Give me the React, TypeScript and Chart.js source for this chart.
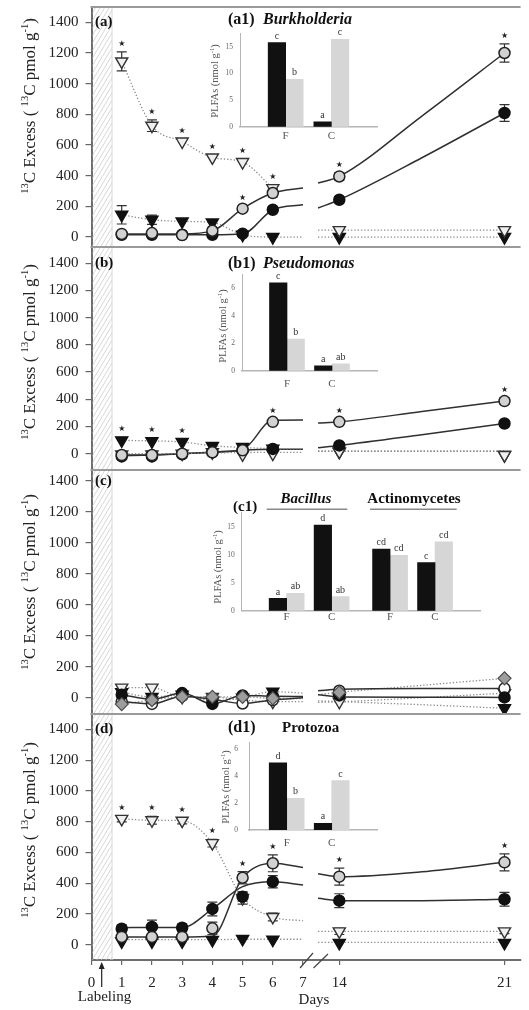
import React, { useEffect, useRef } from 'react';
import { Chart, registerables } from 'chart.js';

Chart.register(...registerables);

const SERIF = "'Liberation Serif', 'Times New Roman', Times, serif";
const STAR_FONT = "'DejaVu Sans', sans-serif";

// ---------------- shared axis data ----------------
const days = [1, 2, 3, 4, 5, 6, 14, 21];
const fitDaysEarly = [1, 2, 3, 4, 5, 6, 7];
const fitDaysLate = [13.1, 14, 17.5, 21];
const xTickDays = [0, 1, 2, 3, 4, 5, 6, 7, 14, 21];
const xTickLabels = ['0', '1', '2', '3', '4', '5', '6', '7', '14', '21'];
const yTicks = [0, 200, 400, 600, 800, 1000, 1200, 1400];
const none8 = [0, 0, 0, 0, 0, 0, 0, 0];

// ---------------- panel (a) Burkholderia ----------------
const aOpenTri = [1145, 726, 623, 519, 489, 319, 45, 45];
const aOpenTriErr = [62, 38, 0, 0, 0, 0, 0, 0];
const aOpenTriStar = [1, 1, 1, 1, 1, 1, 0, 0];
const aOpenTriFitEarly = [1145, 726, 623, 519, 489, 319, null];
const aOpenTriFitLate = [45, 45, 45, 45];

const aBlackTri = [145, 113, 102, 95, 15, 0, 0, 0];
const aBlackTriErr = [60, 30, 0, 0, 0, 0, 0, 0];
const aBlackTriFitEarly = [145, 113, 102, 95, 15, 0, 0];
const aBlackTriFitLate = [0, 0, 0, 0];

const aGrayCirc = [20, 26, 13, 41, 185, 287, 395, 1200];
const aGrayCircErr = [0, 0, 0, 0, 0, 25, 25, 60];
const aGrayCircStar = [0, 0, 0, 0, 1, 0, 1, 1];
const aGrayCircFitEarly = [20, 20, 20, 40, 185, 287, 320];
const aGrayCircFitLate = [352, 395, 789, 1200];

const aBlackCirc = [15, 15, 15, 15, 22, 178, 243, 809];
const aBlackCircErr = [0, 0, 0, 0, 0, 15, 20, 55];
const aBlackCircFitEarly = [15, 15, 15, 15, 20, 178, 210];
const aBlackCircFitLate = [189, 243, 517, 809];

// ---------------- panel (b) Pseudomonas ----------------
const bBlackTri = [98, 91, 86, 56, 49, 37, 15, -10];
const bBlackTriStar = [1, 1, 1, 0, 0, 0, 0, 0];
const bBlackTriFitEarly = [98, 94, 86, 58, 46, 37, 35];
const bBlackTriFitLate = [18, 18, 18, 18];

const bOpenTri = [-5, -5, 0, 10, -5, 0, 15, -10];
const bOpenTriFitEarly = [0, 0, 2, 6, 8, 10, 10];
const bOpenTriFitLate = [18, 18, 18, 18];

const bGrayCirc = [-10, -10, 0, 10, 25, 234, 234, 387];
const bGrayCircErr = [0, 0, 0, 0, 0, 15, 15, 25];
const bGrayCircStar = [0, 0, 0, 0, 0, 1, 1, 1];
const bGrayCircFitEarly = [-10, -8, 0, 10, 30, 245, 248];
const bGrayCircFitLate = [226, 234, 310, 387];

const bBlackCirc = [-20, -20, -5, 10, 30, 35, 61, 222];
const bBlackCircErr = [0, 0, 0, 0, 0, 10, 15, 20];
const bBlackCircFitEarly = [-15, -10, 0, 10, 25, 32, 32];
const bBlackCircFitLate = [44, 61, 140, 222];

// ---------------- panel (c) Bacillus / Actinomycetes ----------------
const cBlackCirc = [20, -10, 30, -40, 15, 10, 15, 2];
const cBlackCircFitEarly = [20, -10, 30, -40, 15, 10, 8];
const cBlackCircFitLate = [20, 5, 3, 2];

const cWhiteCirc = [-25, -40, 10, -10, -37, -15, 45, 60];
const cWhiteCircFitEarly = [-25, -40, 10, -10, -37, -15, 0];
const cWhiteCircFitLate = [45, 55, 60, 60];

const cBlackTri = [35, 5, 20, -20, 0, 39, 0, -68];
const cBlackTriFitEarly = [35, 5, 20, -20, 0, 39, 30];
const cBlackTriFitLate = [-20, -25, -45, -68];

const cOpenTri = [65, 65, 5, 5, -15, -25, -26, 30];
const cOpenTriFitEarly = [65, 65, 5, 5, -15, -25, -25];
const cOpenTriFitLate = [-30, -26, 0, 30];

const cGrayDia = [-41, -15, 6, 6, 6, -4, 35, 125];
const cGrayDiaFitEarly = [-41, -15, 6, 6, 6, -4, -5];
const cGrayDiaFitLate = [20, 35, 80, 125];

// ---------------- panel (d) Protozoa ----------------
const dOpenTri = [818, 809, 806, 660, 303, 180, 86, 86];
const dOpenTriErr = [20, 25, 20, 25, 40, 25, 20, 15];
const dOpenTriStar = [1, 1, 1, 1, 0, 0, 0, 0];
const dOpenTriFitEarly = [818, 809, 806, 660, 303, 180, 155];
const dOpenTriFitLate = [86, 86, 86, 86];

const dBlackTri = [21, 21, 21, 30, 37, 32, 11, 11];
const dBlackTriFitEarly = [32, 32, 32, 32, 35, 35, 35];
const dBlackTriFitLate = [15, 15, 15, 15];

const dGrayCirc = [50, 50, 50, 106, 435, 529, 442, 535];
const dGrayCircErr = [0, 0, 0, 40, 40, 55, 55, 55];
const dGrayCircStar = [0, 0, 0, 0, 1, 1, 1, 1];
const dGrayCircFitEarly = [50, 50, 50, 55, 435, 529, 502];
const dGrayCircFitLate = [461, 442, 474, 535];

const dBlackCirc = [104, 115, 110, 232, 312, 409, 286, 295];
const dBlackCircErr = [25, 45, 25, 45, 30, 40, 45, 45];
const dBlackCircFitEarly = [110, 112, 112, 232, 377, 409, 388];
const dBlackCircFitLate = [301, 286, 286, 295];

// ---------------- inset bar data (PLFAs, nmol g-1) ----------------
const a1Cats = ['F', 'C'];
const a1Black = [15.8, 0.9];
const a1Gray = [8.9, 16.4];
const a1BlackLetters = ['c', 'a'];
const a1GrayLetters = ['b', 'c'];
const a1YTicks = [0, 5, 10, 15];

const b1Cats = ['F', 'C'];
const b1Black = [6.4, 0.36];
const b1Gray = [2.3, 0.5];
const b1BlackLetters = ['c', 'a'];
const b1GrayLetters = ['b', 'ab'];
const b1YTicks = [0, 2, 4, 6];

const c1Cats = ['F', 'C', 'F', 'C'];
const c1Black = [2.2, 15.3, 11.0, 8.6];
const c1Gray = [3.1, 2.5, 9.9, 12.3];
const c1BlackLetters = ['a', 'd', 'cd', 'c'];
const c1GrayLetters = ['ab', 'ab', 'cd', 'cd'];
const c1YTicks = [0, 5, 10, 15];

const d1Cats = ['F', 'C'];
const d1Black = [5.0, 0.5];
const d1Gray = [2.36, 3.67];
const d1BlackLetters = ['d', 'a'];
const d1GrayLetters = ['b', 'c'];
const d1YTicks = [0, 2, 4, 6];

// ---------------- layout constants ----------------
const W = 529;
const PAD = 16;
const Y_AXIS_W = 91.5;
const X_AXIS_H = 46;
const BREAK_AT = 7;
const RESUME_AT = 14;
const RESUME_POS = 8.2;
const LATE_UNIT = 0.781;
const X_MAX = 14.2;
const HATCH_END = 0.68;
const BAR_W = 17.5;
const INSET_XH = 16;

const pos = (d: number) => (d <= BREAK_AT ? d : RESUME_POS + (d - RESUME_AT) * LATE_UNIT);

const MARKERS: any = {
  grayDia: { style: 'rectRot', r: 6.5, rot: 0, bg: '#9d9d9d', border: '#4a4a4a', bw: 1.2, order: 0 },
  grayCirc: { style: 'circle', r: 5.5, rot: 0, bg: '#d2d2d2', border: '#222', bw: 1.5, order: 1 },
  blackCirc: { style: 'circle', r: 5.5, rot: 0, bg: '#111', border: '#111', bw: 1.5, order: 2 },
  whiteCirc: { style: 'circle', r: 5.5, rot: 0, bg: '#fbfbfb', border: '#222', bw: 1.5, order: 3 },
  openTri: { style: 'triangle', r: 7, rot: 180, bg: '#efefef', border: '#333', bw: 1.4, order: 4 },
  blackTri: { style: 'triangle', r: 7, rot: 180, bg: '#111', border: '#111', bw: 1.4, order: 5 },
};

const S = (kind: string, values: number[], fitEarly: any[], fitLate: any[], dotted: boolean, err = none8, star = none8) =>
  ({ kind, values, fitEarly, fitLate, dotted, err, star });

const PANELS: any[] = [
  {
    key: 'a', areaTop: 7, areaBottom: 247, yMin: -65, yMax: 1500, label: '(a)', titleY: 106,
    series: [
      S('openTri', aOpenTri, aOpenTriFitEarly, aOpenTriFitLate, true, aOpenTriErr, aOpenTriStar),
      S('blackTri', aBlackTri, aBlackTriFitEarly, aBlackTriFitLate, true, aBlackTriErr),
      S('grayCirc', aGrayCirc, aGrayCircFitEarly, aGrayCircFitLate, false, aGrayCircErr, aGrayCircStar),
      S('blackCirc', aBlackCirc, aBlackCircFitEarly, aBlackCircFitLate, false, aBlackCircErr),
    ],
  },
  {
    key: 'b', areaTop: 247, areaBottom: 470, yMin: -120, yMax: 1520, label: '(b)', titleY: 352,
    series: [
      S('blackTri', bBlackTri, bBlackTriFitEarly, bBlackTriFitLate, true, none8, bBlackTriStar),
      S('openTri', bOpenTri, bOpenTriFitEarly, bOpenTriFitLate, true),
      S('grayCirc', bGrayCirc, bGrayCircFitEarly, bGrayCircFitLate, false, bGrayCircErr, bGrayCircStar),
      S('blackCirc', bBlackCirc, bBlackCircFitEarly, bBlackCircFitLate, false, bBlackCircErr),
    ],
  },
  {
    key: 'c', areaTop: 470, areaBottom: 714, yMin: -105, yMax: 1470, label: '(c)', titleY: 582,
    series: [
      S('blackCirc', cBlackCirc, cBlackCircFitEarly, cBlackCircFitLate, false),
      S('whiteCirc', cWhiteCirc, cWhiteCircFitEarly, cWhiteCircFitLate, false),
      S('blackTri', cBlackTri, cBlackTriFitEarly, cBlackTriFitLate, true),
      S('openTri', cOpenTri, cOpenTriFitEarly, cOpenTriFitLate, true),
      S('grayDia', cGrayDia, cGrayDiaFitEarly, cGrayDiaFitLate, true),
    ],
  },
  {
    key: 'd', areaTop: 714, areaBottom: 960, yMin: -100, yMax: 1500, label: '(d)', titleY: 830, showX: true,
    series: [
      S('openTri', dOpenTri, dOpenTriFitEarly, dOpenTriFitLate, true, dOpenTriErr, dOpenTriStar),
      S('blackTri', dBlackTri, dBlackTriFitEarly, dBlackTriFitLate, true),
      S('grayCirc', dGrayCirc, dGrayCircFitEarly, dGrayCircFitLate, false, dGrayCircErr, dGrayCircStar),
      S('blackCirc', dBlackCirc, dBlackCircFitEarly, dBlackCircFitLate, false, dBlackCircErr),
    ],
  },
];
PANELS.forEach((p) => {
  p.canvasTop = p.areaTop - PAD;
  p.canvasH = p.areaBottom - p.areaTop + PAD + (p.showX ? X_AXIS_H + 4 : PAD);
});

const INSETS: any[] = [
  {
    key: 'a1', left: 180, top: 8, width: 205, height: 142,
    areaLeft: 240, areaRight: 377, areaTop: 33.4, areaBottom: 126.7,
    xMin: 0, xMax: 3, groupPos: [1, 2], yMax: 17.5, yTicks: a1YTicks,
    cats: a1Cats, black: a1Black, gray: a1Gray, blackLetters: a1BlackLetters, grayLetters: a1GrayLetters,
    xLabelPad: 3, yLabelPad: 7, yTitleX: 218, yTitleY: 81,
    titles: [
      { text: '(a1)', x: 228, y: 20, font: `bold 16px ${SERIF}`, align: 'left' },
      { text: 'Burkholderia', x: 263, y: 20, font: `italic bold 16px ${SERIF}`, align: 'left' },
    ],
    underlines: [],
  },
  {
    key: 'b1', left: 180, top: 250, width: 205, height: 142,
    areaLeft: 242, areaRight: 377, areaTop: 274.5, areaBottom: 370.7,
    xMin: 0, xMax: 3, groupPos: [1, 2], yMax: 7, yTicks: b1YTicks,
    cats: b1Cats, black: b1Black, gray: b1Gray, blackLetters: b1BlackLetters, grayLetters: b1GrayLetters,
    xLabelPad: 7, yLabelPad: 7, yTitleX: 226, yTitleY: 326,
    titles: [
      { text: '(b1)', x: 228, y: 264, font: `bold 16px ${SERIF}`, align: 'left' },
      { text: 'Pseudomonas', x: 263, y: 264, font: `italic bold 16px ${SERIF}`, align: 'left' },
    ],
    underlines: [],
  },
  {
    key: 'c1', left: 180, top: 488, width: 310, height: 145,
    areaLeft: 241.7, areaRight: 480, areaTop: 512.7, areaBottom: 610.7,
    xMin: 0, xMax: 5.3, groupPos: [1, 2, 3.3, 4.3], yMax: 17.5, yTicks: c1YTicks,
    cats: c1Cats, black: c1Black, gray: c1Gray, blackLetters: c1BlackLetters, grayLetters: c1GrayLetters,
    xLabelPad: 0, yLabelPad: 7, yTitleX: 221, yTitleY: 567,
    titles: [
      { text: '(c1)', x: 233, y: 507, font: `bold 15px ${SERIF}`, align: 'left' },
      { text: 'Bacillus', x: 306, y: 499, font: `italic bold 15px ${SERIF}`, align: 'center' },
      { text: 'Actinomycetes', x: 414, y: 499, font: `bold 15px ${SERIF}`, align: 'center' },
    ],
    underlines: [[266.7, 347.3, 509.3], [370, 456.7, 509.3]],
  },
  {
    key: 'd1', left: 180, top: 714, width: 205, height: 140,
    areaLeft: 249, areaRight: 377.3, areaTop: 742.6, areaBottom: 830,
    xMin: 0.162, xMax: 3.013, groupPos: [1, 2], yMax: 6.5, yTicks: d1YTicks,
    cats: d1Cats, black: d1Black, gray: d1Gray, blackLetters: d1BlackLetters, grayLetters: d1GrayLetters,
    xLabelPad: 6.5, yLabelPad: 11, yTitleX: 229, yTitleY: 787,
    titles: [
      { text: '(d1)', x: 228, y: 728, font: `bold 16px ${SERIF}`, align: 'left' },
      { text: 'Protozoa', x: 282, y: 728, font: `bold 15px ${SERIF}`, align: 'left' },
    ],
    underlines: [],
  },
];

const Y_TITLE_PARTS = [
  { t: '13', sup: true }, { t: 'C Excess ( ' }, { t: '13', sup: true }, { t: 'C pmol g' }, { t: '-1', sup: true }, { t: ')' },
];
const PLFA_PARTS = [{ t: 'PLFAs (nmol g' }, { t: '-1', sup: true }, { t: ')' }];

function drawRich(ctx: any, parts: any[], x: number, y: number, size: number, color: string, rotate: boolean) {
  ctx.save();
  ctx.translate(x, y);
  if (rotate) ctx.rotate(-Math.PI / 2);
  const fontFor = (p: any) => `${p.sup ? size * 0.62 : size}px ${SERIF}`;
  let total = 0;
  const widths = parts.map((p) => {
    ctx.font = fontFor(p);
    const w = ctx.measureText(p.t).width;
    total += w;
    return w;
  });
  let cx = -total / 2;
  ctx.fillStyle = color;
  ctx.textAlign = 'left';
  ctx.textBaseline = 'alphabetic';
  parts.forEach((p, i) => {
    ctx.font = fontFor(p);
    ctx.fillText(p.t, cx, p.sup ? -size * 0.4 : 0);
    cx += widths[i];
  });
  ctx.restore();
}

function panelPlugin(p: any) {
  const off = p.canvasTop;
  return {
    id: 'panel-' + p.key,
    beforeDatasetsDraw(chart: any) {
      const { ctx, chartArea: ca, scales } = chart;
      const xs = scales.x;
      const ys = scales.y;
      const hx = xs.getPixelForValue(HATCH_END);
      const h = ca.bottom - ca.top;
      ctx.save();
      ctx.beginPath();
      ctx.rect(ca.left + 1, ca.top, hx - ca.left - 1, h);
      ctx.clip();
      ctx.strokeStyle = '#cdcdcd';
      ctx.lineWidth = 0.8;
      for (let o = -h * 0.6; o < hx - ca.left + 6; o += 4.5) {
        ctx.beginPath();
        ctx.moveTo(ca.left + o, ca.bottom);
        ctx.lineTo(ca.left + o + h * 0.6, ca.top);
        ctx.stroke();
      }
      ctx.restore();
      ctx.save();
      ctx.strokeStyle = '#d8d8d8';
      ctx.lineWidth = 1;
      ctx.beginPath();
      ctx.moveTo(hx, ca.top);
      ctx.lineTo(hx, ca.bottom);
      ctx.stroke();
      // error bars
      ctx.strokeStyle = '#333';
      ctx.lineWidth = 1.2;
      chart.data.datasets.forEach((ds: any, i: number) => {
        if (!ds.errs) return;
        const meta = chart.getDatasetMeta(i);
        meta.data.forEach((pt: any, j: number) => {
          const e = ds.errs[j];
          if (!e) return;
          const v = ds.data[j].y;
          const y1 = ys.getPixelForValue(v + e);
          const y2 = ys.getPixelForValue(v - e);
          ctx.beginPath();
          ctx.moveTo(pt.x, y1);
          ctx.lineTo(pt.x, y2);
          ctx.moveTo(pt.x - 5, y1);
          ctx.lineTo(pt.x + 5, y1);
          ctx.moveTo(pt.x - 5, y2);
          ctx.lineTo(pt.x + 5, y2);
          ctx.stroke();
        });
      });
      ctx.restore();
    },
    afterDatasetsDraw(chart: any) {
      const { ctx, scales } = chart;
      const ys = scales.y;
      ctx.save();
      ctx.fillStyle = '#222';
      ctx.font = `8px ${STAR_FONT}`;
      ctx.textAlign = 'center';
      ctx.textBaseline = 'middle';
      chart.data.datasets.forEach((ds: any, i: number) => {
        if (!ds.stars) return;
        const meta = chart.getDatasetMeta(i);
        meta.data.forEach((pt: any, j: number) => {
          if (!ds.stars[j]) return;
          const v = ds.data[j].y;
          const e = ds.errs ? ds.errs[j] : 0;
          const sy = Math.min(pt.y - 11, ys.getPixelForValue(v + e) - 8);
          ctx.fillText('\u2605', pt.x, sy);
        });
      });
      ctx.restore();
    },
    afterDraw(chart: any) {
      const { ctx, chartArea: ca, scales } = chart;
      const ys = scales.y;
      ctx.save();
      // top border of the panel
      ctx.strokeStyle = '#9a9a9a';
      ctx.lineWidth = 2;
      ctx.beginPath();
      ctx.moveTo(ca.left - 1, ca.top);
      ctx.lineTo(ca.right, ca.top);
      ctx.stroke();
      // panel label
      ctx.fillStyle = '#111';
      ctx.font = `bold 15px ${SERIF}`;
      ctx.textAlign = 'left';
      ctx.textBaseline = 'middle';
      ctx.fillText(p.label, 95, ys.getPixelForValue(1400));
      ctx.restore();
      drawRich(ctx, Y_TITLE_PARTS, 35, p.titleY - off, 17, '#222', true);
      if (p.showX) {
        ctx.save();
        ctx.strokeStyle = '#444';
        ctx.lineWidth = 1.2;
        ctx.beginPath();
        ctx.moveTo(300, 968 - off);
        ctx.lineTo(313, 953 - off);
        ctx.moveTo(313.5, 968 - off);
        ctx.lineTo(328, 954 - off);
        ctx.stroke();
        ctx.fillStyle = '#222';
        ctx.font = `15px ${SERIF}`;
        ctx.textAlign = 'center';
        ctx.textBaseline = 'middle';
        ctx.fillText('Days', 314, 1000 - off);
        ctx.fillText('Labeling', 104.5, 997 - off);
        ctx.strokeStyle = '#222';
        ctx.lineWidth = 1.2;
        ctx.beginPath();
        ctx.moveTo(101.7, 987 - off);
        ctx.lineTo(101.7, 966 - off);
        ctx.stroke();
        ctx.beginPath();
        ctx.moveTo(101.7, 962 - off);
        ctx.lineTo(98.7, 969 - off);
        ctx.lineTo(104.7, 969 - off);
        ctx.closePath();
        ctx.fill();
        ctx.restore();
      }
    },
  };
}

function makePanel(canvas: HTMLCanvasElement, p: any) {
  const datasets: any[] = [];
  p.series.forEach((s: any, si: number) => {
    const st = MARKERS[s.kind];
    const lineCommon = {
      type: 'line', showLine: true, pointRadius: 0, pointHitRadius: 0,
      borderColor: s.dotted ? '#8a8a8a' : '#303030', borderWidth: s.dotted ? 1.3 : 1.5,
      borderDash: s.dotted ? [1.3, 2] : [], cubicInterpolationMode: 'monotone', fill: false,
      spanGaps: false, order: 50 + si,
    };
    datasets.push({ ...lineCommon, data: fitDaysEarly.map((d, i) => ({ x: pos(d), y: s.fitEarly[i] })) });
    datasets.push({ ...lineCommon, data: fitDaysLate.map((d, i) => ({ x: pos(d), y: s.fitLate[i] })) });
    datasets.push({
      type: 'line', showLine: false,
      data: days.map((d, i) => ({ x: pos(d), y: s.values[i] })),
      pointStyle: st.style, pointRadius: st.r, pointRotation: st.rot,
      pointBackgroundColor: st.bg, pointBorderColor: st.border, pointBorderWidth: st.bw,
      backgroundColor: st.bg, borderColor: st.border, order: st.order,
      errs: s.err, stars: s.star,
    });
  });
  return new Chart(canvas, {
    type: 'line',
    data: { datasets },
    options: {
      responsive: false, animation: false, events: [],
      layout: { padding: { top: PAD, bottom: p.showX ? 4 : PAD, left: 0, right: 0 } },
      plugins: { legend: { display: false }, tooltip: { enabled: false } },
      scales: {
        x: {
          type: 'linear', min: 0, max: X_MAX, display: !!p.showX,
          afterBuildTicks: (sc: any) => { sc.ticks = xTickDays.map((d) => ({ value: pos(d) })); },
          afterFit: (sc: any) => { sc.height = p.showX ? X_AXIS_H : 0; },
          ticks: {
            autoSkip: false, maxRotation: 0, minRotation: 0, padding: 9, color: '#222',
            font: { family: SERIF, size: 15 }, callback: (_v: any, i: number) => xTickLabels[i],
          },
          grid: { display: true, drawOnChartArea: false, drawTicks: true, tickLength: 5, color: '#666', lineWidth: 1.2 },
          border: { display: true, color: '#6e6e6e', width: 2 },
        },
        y: {
          type: 'linear', min: p.yMin, max: p.yMax,
          afterBuildTicks: (sc: any) => { sc.ticks = yTicks.map((v) => ({ value: v })); },
          afterFit: (sc: any) => { sc.width = Y_AXIS_W; },
          ticks: { padding: 7, color: '#222', font: { family: SERIF, size: 15 }, callback: (v: any) => String(v) },
          grid: { display: true, drawOnChartArea: false, drawTicks: true, tickLength: 6, color: '#666', lineWidth: 1.2 },
          border: { display: true, color: '#6e6e6e', width: 2 },
        },
      },
    } as any,
    plugins: [panelPlugin(p)],
  } as any);
}

function insetPlugin(ins: any) {
  return {
    id: 'inset-' + ins.key,
    afterDatasetsDraw(chart: any) {
      const ctx = chart.ctx;
      ctx.save();
      ctx.fillStyle = '#333';
      ctx.font = `10px ${SERIF}`;
      ctx.textAlign = 'center';
      ctx.textBaseline = 'bottom';
      chart.data.datasets.forEach((ds: any, i: number) => {
        const meta = chart.getDatasetMeta(i);
        meta.data.forEach((bar: any, j: number) => {
          ctx.fillText(ds.letters[j], bar.x, bar.y - 1.5);
        });
      });
      ctx.restore();
    },
    afterDraw(chart: any) {
      const ctx = chart.ctx;
      ctx.save();
      ctx.fillStyle = '#111';
      ctx.textBaseline = 'middle';
      ins.titles.forEach((t: any) => {
        ctx.font = t.font;
        ctx.textAlign = t.align;
        ctx.fillText(t.text, t.x - ins.left, t.y - ins.top);
      });
      ctx.strokeStyle = '#8a8a8a';
      ctx.lineWidth = 1.5;
      ins.underlines.forEach((u: number[]) => {
        ctx.beginPath();
        ctx.moveTo(u[0] - ins.left, u[2] - ins.top);
        ctx.lineTo(u[1] - ins.left, u[2] - ins.top);
        ctx.stroke();
      });
      ctx.restore();
      drawRich(ctx, PLFA_PARTS, ins.yTitleX - ins.left, ins.yTitleY - ins.top, 10.5, '#555', true);
    },
  };
}

function makeInset(canvas: HTMLCanvasElement, ins: any) {
  const mk = (vals: number[], color: string, letters: string[]) => ({
    data: ins.groupPos.map((g: number, i: number) => ({ x: g, y: vals[i] })),
    backgroundColor: color, borderWidth: 0, barThickness: BAR_W, letters,
  });
  return new Chart(canvas, {
    type: 'bar',
    data: { datasets: [mk(ins.black, '#111', ins.blackLetters), mk(ins.gray, '#d6d6d6', ins.grayLetters)] },
    options: {
      responsive: false, animation: false, events: [],
      layout: {
        padding: {
          top: ins.areaTop - ins.top,
          right: ins.left + ins.width - ins.areaRight,
          bottom: ins.top + ins.height - ins.areaBottom - INSET_XH,
          left: 0,
        },
      },
      plugins: { legend: { display: false }, tooltip: { enabled: false } },
      scales: {
        x: {
          type: 'linear', min: ins.xMin, max: ins.xMax, offset: false,
          afterBuildTicks: (sc: any) => { sc.ticks = ins.groupPos.map((v: number) => ({ value: v })); },
          afterFit: (sc: any) => { sc.height = INSET_XH; },
          ticks: {
            autoSkip: false, maxRotation: 0, minRotation: 0, padding: ins.xLabelPad, color: '#555',
            font: { family: SERIF, size: 11 }, callback: (_v: any, i: number) => ins.cats[i],
          },
          grid: { display: false, drawTicks: false },
          border: { display: true, color: '#b5b5b5', width: 1.5 },
        },
        y: {
          type: 'linear', min: 0, max: ins.yMax,
          afterBuildTicks: (sc: any) => { sc.ticks = ins.yTicks.map((v: number) => ({ value: v })); },
          afterFit: (sc: any) => { sc.width = ins.areaLeft - ins.left; },
          ticks: { padding: ins.yLabelPad, color: '#666', font: { family: SERIF, size: 7.5 }, callback: (v: any) => String(v) },
          grid: { display: false, drawTicks: false },
          border: { display: true, color: '#b5b5b5', width: 1 },
        },
      },
    } as any,
    plugins: [insetPlugin(ins)],
  } as any);
}

export default function App() {
  const refs = useRef<(HTMLCanvasElement | null)[]>([]);
  useEffect(() => {
    const charts: any[] = [];
    PANELS.forEach((p, i) => {
      const c = refs.current[i];
      if (c) charts.push(makePanel(c, p));
    });
    INSETS.forEach((ins, j) => {
      const c = refs.current[PANELS.length + j];
      if (c) charts.push(makeInset(c, ins));
    });
    return () => charts.forEach((c) => c.destroy());
  }, []);
  return (
    <div style={{ position: 'absolute', left: 0, top: 0, width: W, height: 1010, background: '#fff', overflow: 'hidden' }}>
      {PANELS.map((p, i) => (
        <canvas
          key={p.key}
          ref={(el) => { refs.current[i] = el; }}
          width={W}
          height={p.canvasH}
          style={{ position: 'absolute', left: 0, top: p.canvasTop, width: W, height: p.canvasH }}
        />
      ))}
      {INSETS.map((ins, j) => (
        <canvas
          key={ins.key}
          ref={(el) => { refs.current[PANELS.length + j] = el; }}
          width={ins.width}
          height={ins.height}
          style={{ position: 'absolute', left: ins.left, top: ins.top, width: ins.width, height: ins.height }}
        />
      ))}
    </div>
  );
}
